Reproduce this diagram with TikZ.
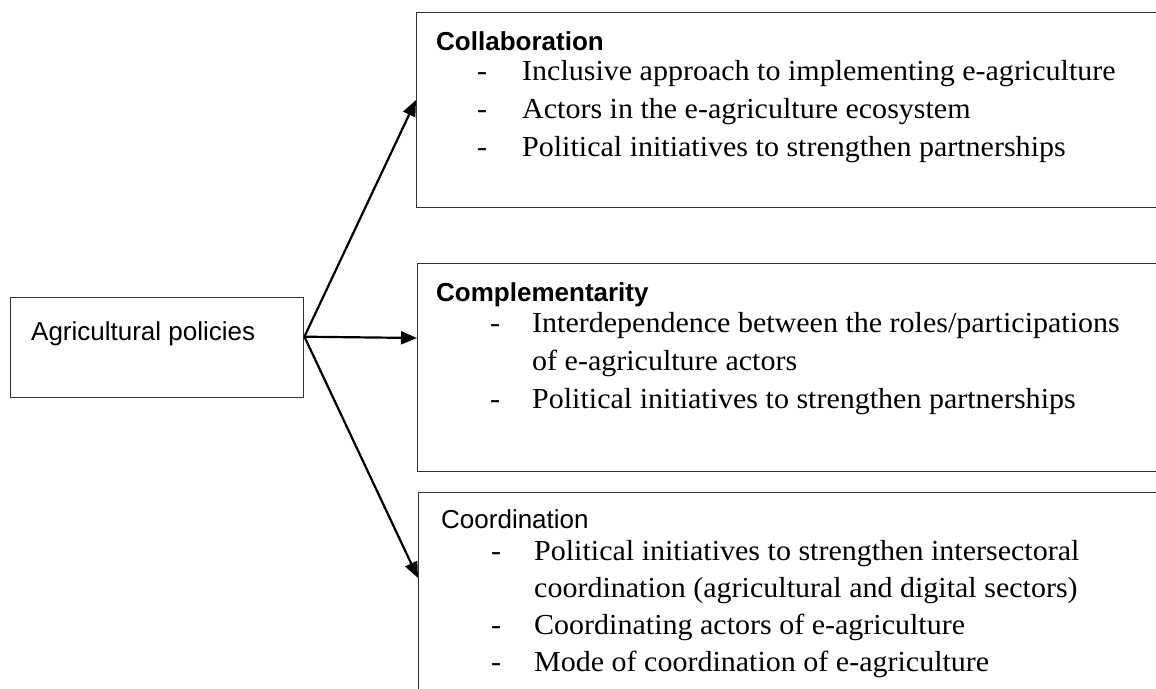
\documentclass[tikz,border=0pt]{standalone}
\usepackage{fontspec}
\setmainfont[FakeStretch=1.035]{Liberation Serif}
\setsansfont{Liberation Sans}
\usetikzlibrary{arrows.meta}

\tikzset{
  box/.style={draw=black!80,line width=1.4pt,rectangle,anchor=north west,inner sep=0pt},
  head/.style={anchor=base west,inner sep=0pt,font=\sffamily\fontsize{26}{30}\selectfont},
  boldhead/.style={head,font=\sffamily\bfseries\fontsize{26}{30}\selectfont},
  item/.style={anchor=base west,inner sep=0pt,font=\fontsize{29}{38}\selectfont},
  link/.style={line width=2.2pt,-{Triangle[length=16pt,width=13pt]}}
}

\begin{document}
\begin{tikzpicture}[x=1pt,y=-1pt]
    \useasboundingbox (0,0) rectangle (1156,688);
    \clip (0,0) rectangle (1156,688);

    % the policy box
    \node[box,minimum width=293pt,minimum height=100pt] (policy) at (10,297) {};
    \node[head] (policytxt) at (31,340) {Agricultural policies};

    % the three boxes on the right, open past the edge
    \node[box,minimum width=800pt,minimum height=195pt] (collab) at (416,12) {};
    \node[box,minimum width=800pt,minimum height=208pt] (compl) at (417,263) {};
    \node[box,minimum width=800pt,minimum height=260pt] (coord) at (418,492) {};

    \coordinate (fork) at ([yshift=11pt]policy.east);
    \draw[link] (fork) -- ([yshift=-88pt]collab.north west);
    \draw[link] (fork) -- ([yshift=-75pt]compl.north west);
    \draw[link] (fork) -- ([yshift=-86pt]coord.north west);

    % Collaboration
    \node[boldhead] (collabhead) at (436,50) {Collaboration};
    \foreach \y in {80,118,156}
      \node[item] (collabdash\y) at (477,\y) {-};
    \node[item] (collabA) at (522,80) {Inclusive approach to implementing e-agriculture};
    \node[item] (collabB) at (522,118) {Actors in the e-agriculture ecosystem};
    \node[item] (collabC) at (522,156) {Political initiatives to strengthen partnerships};

    % Complementarity
    \node[boldhead] (complhead) at (436,301) {Complementarity};
    \foreach \y in {332,408}
      \node[item] (compldash\y) at (490,\y) {-};
    \node[item] (complA) at (532,332) {Interdependence between the roles/participations};
    \node[item] (complB) at (532,370) {of e-agriculture actors};
    \node[item] (complC) at (532,408) {Political initiatives to strengthen partnerships};

    % Coordination
    \node[head] (coordhead) at (441,528) {Coordination};
    \foreach \y in {560,634,671}
      \node[item] (coorddash\y) at (491,\y) {-};
    \node[item] (coordA) at (534,560) {Political initiatives to strengthen intersectoral};
    \node[item] (coordB) at (534,597) {coordination (agricultural and digital sectors)};
    \node[item] (coordC) at (534,634) {Coordinating actors of e-agriculture};
    \node[item] (coordD) at (534,671) {Mode of coordination of e-agriculture};
\end{tikzpicture}
\end{document}
